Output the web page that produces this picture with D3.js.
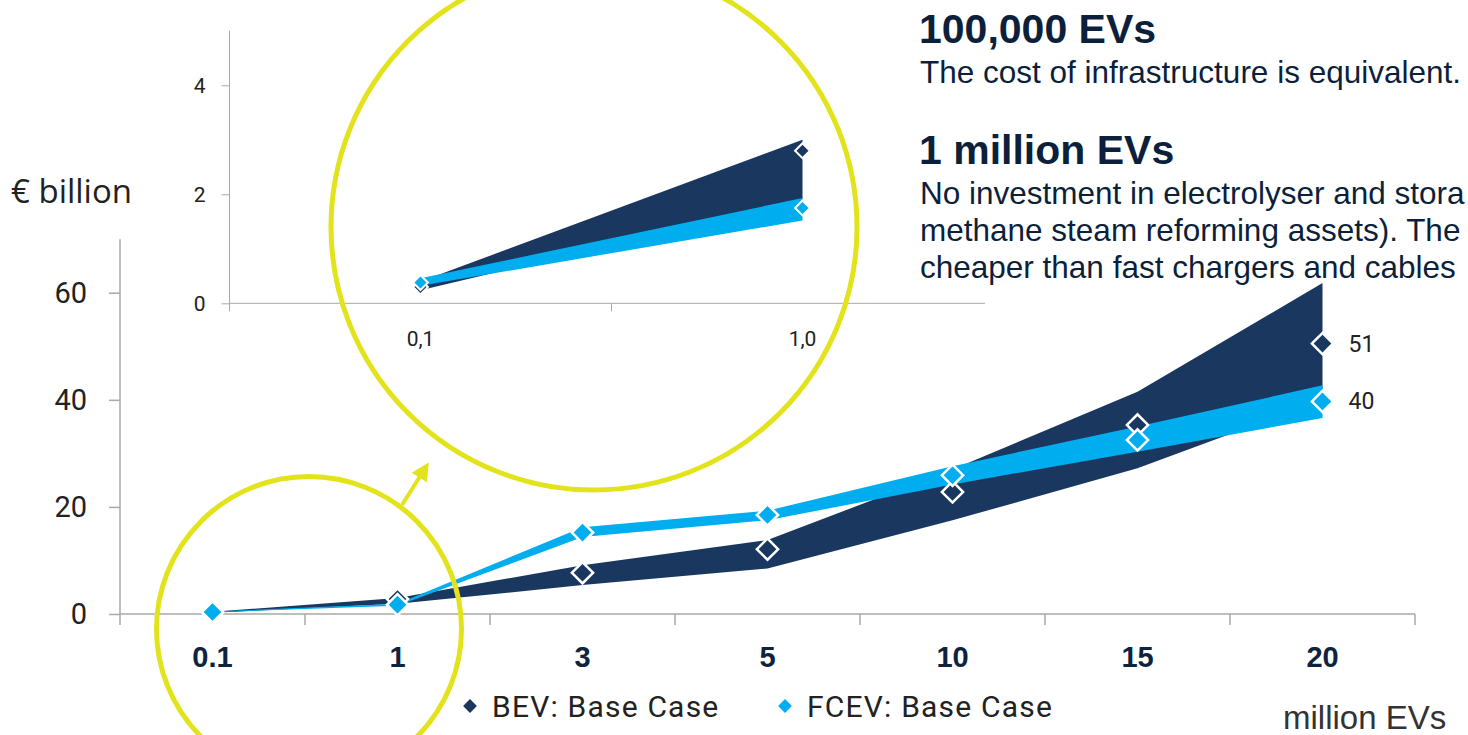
<!DOCTYPE html>
<html>
<head>
<meta charset="utf-8">
<script src="https://cdn.jsdelivr.net/npm/d3@7"></script>
<style>
  body { margin: 0; background: #fff; }
  svg { display: block; }
</style>
</head>
<body>
<script>
// data (€ billion, per million EVs)
const categories = ["0.1", "1", "3", "5", "10", "15", "20"];
const bevBase = [0.3, 2.8, 7.7, 12.1, 22.8, 35.3, 50.5];
const bevLow = [0.24, 1.9, 5.4, 8.5, 17.5, 27.2, 40];
const bevHigh = [0.4, 3.0, 9.1, 13.8, 27, 41.5, 61.8];
const fcevBase = [0.38, 1.75, 15.2, 18.5, 25.9, 32.5, 39.7];
const fcevLow = [0.32, 1.52, 14.4, 17.5, 24.2, 30.3, 36.6];
const fcevHigh = [0.46, 1.93, 16.2, 19.3, 27.6, 35.0, 42.7];
const endLabels = ["51", "40"];
const yTicks = [0, 20, 40, 60];

// zoomed inset (first two points)
const insetCategories = ["0,1", "1,0"];
const insetYTicks = [0, 2, 4];

const legendLabels = ["BEV: Base Case", "FCEV: Base Case"];
const heading1 = "100,000 EVs";
const text1 = ["The cost of infrastructure is equivalent."];
const heading2 = "1 million EVs";
const text2 = [
  "No investment in electrolyser and stora",
  "methane steam reforming assets). The",
  "cheaper than fast chargers and cables",
];

const W = 1468, H = 735;
const navy = "#1a3760";
const blue = "#00aeef";
const yellow = "#e2e31a";
const axisGrey = "#a8a8a8";
const din = "Roboto, 'DejaVu Sans', sans-serif";
const arial = "'Liberation Sans', Arial, sans-serif";

const svg = d3.select("body").append("svg").attr("width", W).attr("height", H);

const rows = categories.map((c, i) => ({
  c,
  bl: bevLow[i], bh: bevHigh[i], b: bevBase[i],
  fl: fcevLow[i], fh: fcevHigh[i], f: fcevBase[i],
}));

const diamond = (size) => d3.symbol(d3.symbolSquare, size);

// one chart = bands + markers on a band scale
function drawSeries(g, data, x, y, markerSize, strokeW) {
  const cx = (d) => x(d.c) + x.bandwidth() / 2;
  g.append("path").datum(data)
    .attr("fill", navy)
    .attr("d", d3.area().x(cx).y0((d) => y(d.bl)).y1((d) => y(d.bh)));
  g.append("path").datum(data)
    .attr("fill", blue)
    .attr("d", d3.area().x(cx).y0((d) => y(d.fl)).y1((d) => y(d.fh)));
  g.selectAll(".mb").data(data).join("path")
    .attr("class", "mb")
    .attr("d", diamond(markerSize))
    .attr("transform", (d) => `translate(${cx(d)},${y(d.b)}) rotate(45)`)
    .attr("fill", navy).attr("stroke", "#fff").attr("stroke-width", strokeW);
  g.selectAll(".mf").data(data).join("path")
    .attr("class", "mf")
    .attr("d", diamond(markerSize))
    .attr("transform", (d) => `translate(${cx(d)},${y(d.f)}) rotate(45)`)
    .attr("fill", blue).attr("stroke", "#fff").attr("stroke-width", strokeW);
}

// ---------- inset ----------
const xi = d3.scaleBand().domain(insetCategories).range([229.5, 993.5]);
const yi = d3.scaleLinear().domain([0, 5]).range([303.3, 30.8]);
const inset = svg.append("g");

inset.append("g")
  .attr("transform", `translate(${xi.range()[0]},0)`)
  .call(d3.axisLeft(yi).tickValues(insetYTicks).tickFormat(d3.format("d"))
    .tickSize(8).tickPadding(16))
  .call((g) => {
    g.select(".domain").remove();
    g.selectAll(".tick line").attr("stroke", axisGrey);
    g.selectAll(".tick text").attr("fill", "#222")
      .style("font", `21px ${din}`);
  });
inset.append("line")
  .attr("x1", xi.range()[0]).attr("x2", xi.range()[0])
  .attr("y1", yi(5)).attr("y2", yi(0) + 8)
  .attr("stroke", axisGrey);
inset.append("line")
  .attr("x1", xi.range()[0]).attr("x2", 985)
  .attr("y1", yi(0)).attr("y2", yi(0))
  .attr("stroke", axisGrey);
inset.append("line")
  .attr("x1", xi.range()[0] + xi.step()).attr("x2", xi.range()[0] + xi.step())
  .attr("y1", yi(0)).attr("y2", yi(0) + 8)
  .attr("stroke", axisGrey);
inset.append("g")
  .attr("transform", `translate(0,${yi(0)})`)
  .call(d3.axisBottom(xi).tickSize(0).tickPadding(28))
  .call((g) => {
    g.select(".domain").remove();
    g.selectAll(".tick text").attr("fill", "#222")
      .style("font", `21px ${din}`);
  });
drawSeries(inset, rows.slice(0, 2).map((d, i) => ({ ...d, c: insetCategories[i] })), xi, yi, 110, 2);

// ---------- main chart ----------
const x = d3.scaleBand().domain(categories).range([120, 1415]);
const y = d3.scaleLinear().domain([0, 70]).range([614, 239.2]);
const main = svg.append("g");

main.append("g")
  .attr("transform", `translate(${x.range()[0]},0)`)
  .call(d3.axisLeft(y).tickValues(yTicks).tickSize(11).tickPadding(22))
  .call((g) => {
    g.select(".domain").remove();
    g.selectAll(".tick line").attr("stroke", axisGrey).attr("stroke-width", 1.5);
    g.selectAll(".tick text").attr("fill", "#222")
      .style("font", `29px ${din}`);
  });
main.append("line")
  .attr("x1", x.range()[0]).attr("x2", x.range()[0])
  .attr("y1", y(70)).attr("y2", y(0))
  .attr("stroke", axisGrey).attr("stroke-width", 1.5);
main.append("line")
  .attr("x1", x.range()[0]).attr("x2", x.range()[1])
  .attr("y1", y(0)).attr("y2", y(0))
  .attr("stroke", axisGrey).attr("stroke-width", 1.5);
main.selectAll(".bt").data(d3.range(categories.length + 1)).join("line")
  .attr("class", "bt")
  .attr("x1", (i) => x.range()[0] + i * x.step())
  .attr("x2", (i) => x.range()[0] + i * x.step())
  .attr("y1", y(0)).attr("y2", y(0) + 11)
  .attr("stroke", axisGrey).attr("stroke-width", 1.5);
main.append("g")
  .attr("transform", `translate(0,${y(0)})`)
  .call(d3.axisBottom(x).tickSize(0).tickPadding(32))
  .call((g) => {
    g.select(".domain").remove();
    g.selectAll(".tick text").attr("fill", "#0d2340")
      .style("font", `bold 29px ${arial}`);
  });

drawSeries(main, rows, x, y, 225, 2.5);

// end labels
const last = rows[rows.length - 1];
main.selectAll(".endl").data([last.b, last.f]).join("text")
  .attr("class", "endl")
  .attr("x", x(last.c) + x.bandwidth() / 2 + 26)
  .attr("y", (d) => y(d))
  .attr("dy", "0.35em")
  .attr("fill", "#222")
  .style("font", `23px ${din}`)
  .text((d, i) => endLabels[i]);

// axis titles
svg.append("text").attr("x", 11).attr("y", 203)
  .attr("fill", "#222").style("font", "33px 'Open Sans', sans-serif")
  .text("€ billion");
svg.append("text").attr("x", 1283).attr("y", 729)
  .attr("fill", "#333").style("font", `33px ${arial}`)
  .text("million EVs");

// legend
const legend = svg.append("g");
const legendX = [470, 785];
legendLabels.forEach((label, i) => {
  legend.append("path")
    .attr("d", diamond(95))
    .attr("transform", `translate(${legendX[i]},706) rotate(45)`)
    .attr("fill", i === 0 ? navy : blue);
  legend.append("text")
    .attr("x", legendX[i] + 22).attr("y", 716.5)
    .attr("fill", "#222").style("font", `30px ${din}`)
    .style("letter-spacing", "1.2px")
    .text(label);
});

// yellow zoom annotation
const small = { cx: (x("0.1") + x("1")) / 2 + x.bandwidth() / 2 + 4, cy: y(0) + 15, r: 152.5 };
svg.append("circle").attr("cx", small.cx).attr("cy", small.cy).attr("r", small.r)
  .attr("fill", "none").attr("stroke", yellow).attr("stroke-width", 5);
svg.append("circle").attr("cx", 594).attr("cy", 227).attr("r", 263)
  .attr("fill", "none").attr("stroke", yellow).attr("stroke-width", 5);
svg.append("defs").append("marker")
  .attr("id", "ah").attr("viewBox", "0 0 10 10")
  .attr("refX", 5).attr("refY", 5)
  .attr("markerWidth", 4.5).attr("markerHeight", 4.5)
  .attr("orient", "auto")
  .append("path").attr("d", "M0,0L10,5L0,10z").attr("fill", yellow);
svg.append("line")
  .attr("x1", 402).attr("y1", 505).attr("x2", 424).attr("y2", 470)
  .attr("stroke", yellow).attr("stroke-width", 4)
  .attr("marker-end", "url(#ah)");

// text block
const tb = svg.append("g").attr("fill", "#0c1f3b");
tb.append("text").attr("x", 919).attr("y", 42.5)
  .style("font", `bold 41px ${arial}`).text(heading1);
text1.forEach((t, i) => tb.append("text").attr("x", 920).attr("y", 82.5 + i * 37.5)
  .style("font", `31.5px ${arial}`).text(t));
tb.append("text").attr("x", 919).attr("y", 163.5)
  .style("font", `bold 41px ${arial}`).text(heading2);
text2.forEach((t, i) => tb.append("text").attr("x", 920).attr("y", 203.5 + i * 37.2)
  .style("font", `31.5px ${arial}`).text(t));
</script>
</body>
</html>
